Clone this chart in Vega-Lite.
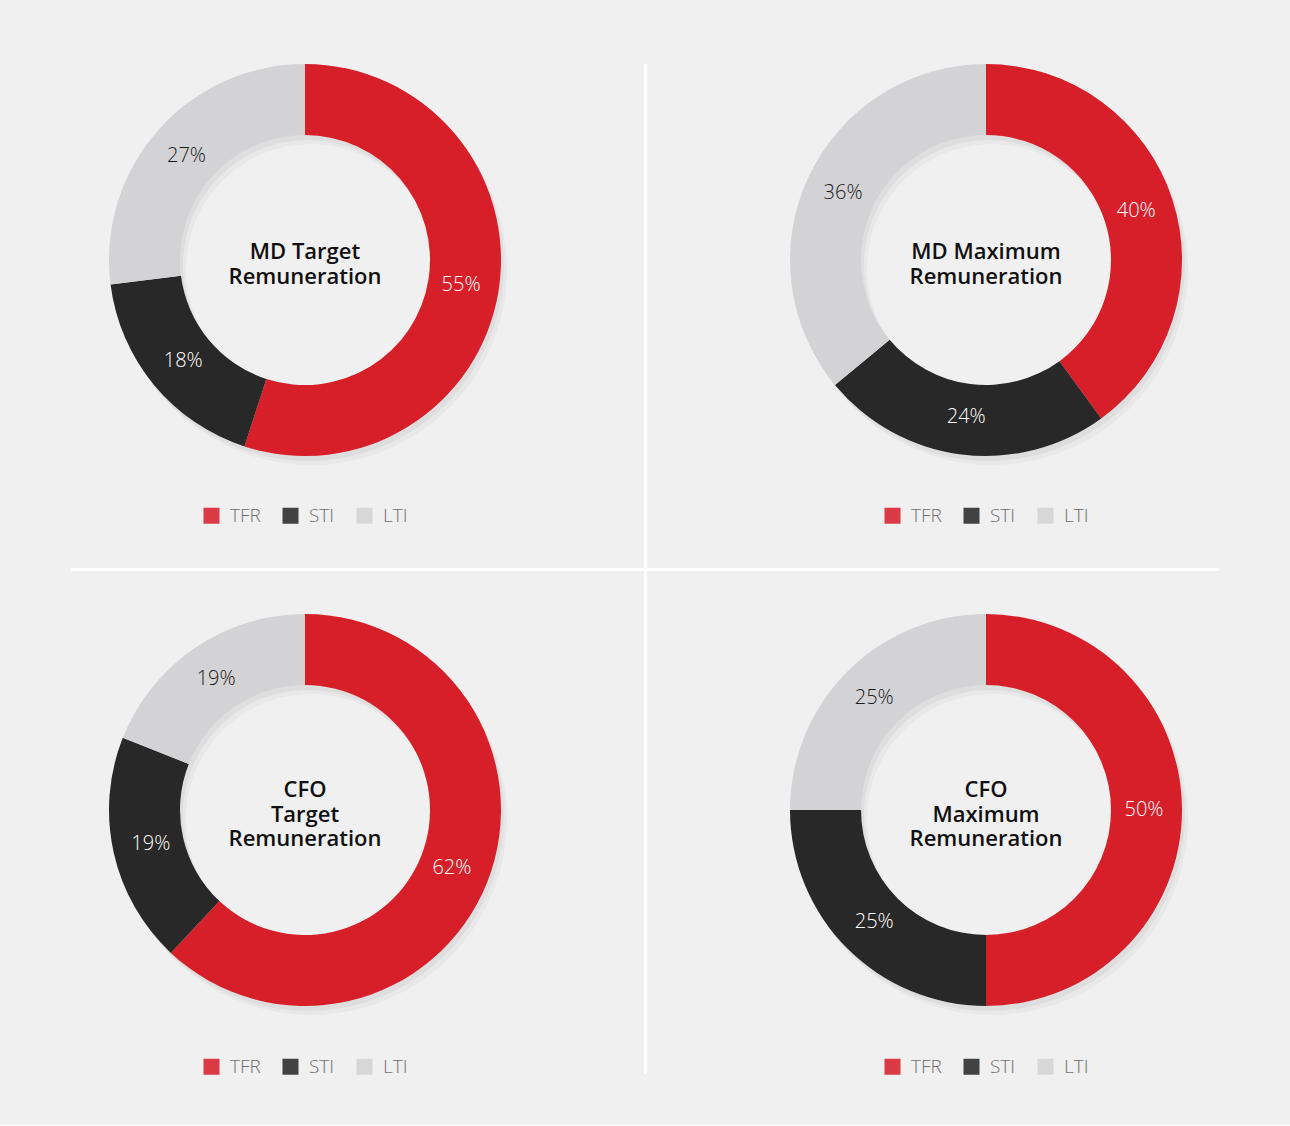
{
  "$schema": "https://vega.github.io/schema/vega-lite/v6.json",
  "background": "#f0f0f0",
  "padding": {"left": 5, "top": 64, "right": 4, "bottom": 48},
  "config": {
    "font": "Open Sans",
    "view": {"stroke": null},
    "legend": {
      "orient": "bottom",
      "direction": "horizontal",
      "symbolType": "square",
      "symbolSize": 256,
      "symbolStrokeWidth": 0,
      "symbolOpacity": 0.87,
      "labelFontSize": 19,
      "labelFont": "Open Sans",
      "labelFontWeight": 300,
      "labelColor": "#6f6f6f",
      "columnPadding": 20,
      "labelOffset": 9,
      "layout": {"anchor": "middle", "bottom": {"anchor": "middle"}}
    }
  },
  "datasets": {
    "shares": [
      {"chart": "MD Target", "part": "TFR", "rank": 1, "pct": 0.55},
      {"chart": "MD Target", "part": "STI", "rank": 2, "pct": 0.18},
      {"chart": "MD Target", "part": "LTI", "rank": 3, "pct": 0.27},
      {"chart": "MD Maximum", "part": "TFR", "rank": 1, "pct": 0.40},
      {"chart": "MD Maximum", "part": "STI", "rank": 2, "pct": 0.24},
      {"chart": "MD Maximum", "part": "LTI", "rank": 3, "pct": 0.36},
      {"chart": "CFO Target", "part": "TFR", "rank": 1, "pct": 0.62},
      {"chart": "CFO Target", "part": "STI", "rank": 2, "pct": 0.19},
      {"chart": "CFO Target", "part": "LTI", "rank": 3, "pct": 0.19},
      {"chart": "CFO Maximum", "part": "TFR", "rank": 1, "pct": 0.50},
      {"chart": "CFO Maximum", "part": "STI", "rank": 2, "pct": 0.25},
      {"chart": "CFO Maximum", "part": "LTI", "rank": 3, "pct": 0.25}
    ],
    "titles": [
      {"chart": "MD Target", "title": "MD Target\nRemuneration"},
      {"chart": "MD Maximum", "title": "MD Maximum\nRemuneration"},
      {"chart": "CFO Target", "title": "CFO\nTarget\nRemuneration"},
      {"chart": "CFO Maximum", "title": "CFO\nMaximum\nRemuneration"}
    ]
  },
  "spacing": 0,
  "resolve": {"scale": {"color": "independent", "fill": "independent"}, "legend": {"color": "independent"}},
  "vconcat": [
    {
      "spacing": 39,
      "resolve": {"scale": {"color": "independent", "fill": "independent"}, "legend": {"color": "independent"}},
      "hconcat": [
        {
          "width": 600, "height": 392,
          "data": {"name": "shares"},
          "transform": [{"filter": "datum.chart === 'MD Target'"}],
          "layer": [
            {"mark": {"type": "arc", "innerRadius": 125, "outerRadius": 196, "color": "black", "opacity": 0.03, "xOffset": 6, "yOffset": 9},
             "encoding": {"theta": {"field": "pct", "type": "quantitative", "stack": true}, "order": {"field": "rank", "type": "quantitative"}}},
            {"mark": {"type": "arc", "innerRadius": 125, "outerRadius": 196, "color": "black", "opacity": 0.04, "xOffset": 3, "yOffset": 5},
             "encoding": {"theta": {"field": "pct", "type": "quantitative", "stack": true}, "order": {"field": "rank", "type": "quantitative"}}},
            {"mark": {"type": "arc", "innerRadius": 125, "outerRadius": 196},
             "encoding": {
               "theta": {"field": "pct", "type": "quantitative", "stack": true},
               "order": {"field": "rank", "type": "quantitative"},
               "color": {"field": "part", "type": "nominal", "scale": {"domain": ["TFR", "STI", "LTI"], "range": ["#d71f2a", "#282828", "#d3d3d5"]}, "legend": {"title": null, "offset": 50}}
             }},
            {"mark": {"type": "text", "radius": 158, "fontSize": 20, "fontWeight": 300},
             "encoding": {
               "theta": {"field": "pct", "type": "quantitative", "stack": true},
               "order": {"field": "rank", "type": "quantitative"},
               "text": {"field": "pct", "type": "quantitative", "format": ".0%"},
               "fill": {"field": "part", "type": "nominal", "scale": {"domain": ["TFR", "STI", "LTI"], "range": ["#ffffff", "#ffffff", "#1a1a1a"]}, "legend": null}
             }},
            {"data": {"name": "titles"}, "transform": [{"filter": "datum.chart === 'MD Target'"}],
             "mark": {"type": "text", "fontSize": 22, "fontWeight": 600, "lineBreak": "\n", "lineHeight": 24.5, "dy": -8, "color": "#111111"},
             "encoding": {"text": {"field": "title", "type": "nominal"}}}
          ]
        },
        {"width": 3, "height": 504, "view": {"fill": "white"}, "data": {"values": [{}]}, "mark": {"type": "point", "opacity": 0, "size": 0}},
        {
          "width": 600, "height": 392,
          "data": {"name": "shares"},
          "transform": [{"filter": "datum.chart === 'MD Maximum'"}],
          "layer": [
            {"mark": {"type": "arc", "innerRadius": 125, "outerRadius": 196, "color": "black", "opacity": 0.03, "xOffset": 6, "yOffset": 9},
             "encoding": {"theta": {"field": "pct", "type": "quantitative", "stack": true}, "order": {"field": "rank", "type": "quantitative"}}},
            {"mark": {"type": "arc", "innerRadius": 125, "outerRadius": 196, "color": "black", "opacity": 0.04, "xOffset": 3, "yOffset": 5},
             "encoding": {"theta": {"field": "pct", "type": "quantitative", "stack": true}, "order": {"field": "rank", "type": "quantitative"}}},
            {"mark": {"type": "arc", "innerRadius": 125, "outerRadius": 196},
             "encoding": {
               "theta": {"field": "pct", "type": "quantitative", "stack": true},
               "order": {"field": "rank", "type": "quantitative"},
               "color": {"field": "part", "type": "nominal", "scale": {"domain": ["TFR", "STI", "LTI"], "range": ["#d71f2a", "#282828", "#d3d3d5"]}, "legend": {"title": null, "offset": 50}}
             }},
            {"mark": {"type": "text", "radius": 158, "fontSize": 20, "fontWeight": 300},
             "encoding": {
               "theta": {"field": "pct", "type": "quantitative", "stack": true},
               "order": {"field": "rank", "type": "quantitative"},
               "text": {"field": "pct", "type": "quantitative", "format": ".0%"},
               "fill": {"field": "part", "type": "nominal", "scale": {"domain": ["TFR", "STI", "LTI"], "range": ["#ffffff", "#ffffff", "#1a1a1a"]}, "legend": null}
             }},
            {"data": {"name": "titles"}, "transform": [{"filter": "datum.chart === 'MD Maximum'"}],
             "mark": {"type": "text", "fontSize": 22, "fontWeight": 600, "lineBreak": "\n", "lineHeight": 24.5, "dy": -8, "color": "#111111"},
             "encoding": {"text": {"field": "title", "type": "nominal"}}}
          ]
        }
      ]
    },
    {
      "spacing": 0,
      "hconcat": [
        {"width": 66, "height": 3, "data": {"values": [{}]}, "mark": {"type": "point", "opacity": 0, "size": 0}},
        {"width": 1148, "height": 3, "view": {"fill": "white"}, "data": {"values": [{}]}, "mark": {"type": "point", "opacity": 0, "size": 0}}
      ]
    },
    {
      "spacing": 39,
      "resolve": {"scale": {"color": "independent", "fill": "independent"}, "legend": {"color": "independent"}},
      "hconcat": [
        {
          "width": 600, "height": 478,
          "data": {"name": "shares"},
          "transform": [{"filter": "datum.chart === 'CFO Target'"}],
          "layer": [
            {"mark": {"type": "arc", "innerRadius": 125, "outerRadius": 196, "color": "black", "opacity": 0.03, "xOffset": 6, "yOffset": 9},
             "encoding": {"theta": {"field": "pct", "type": "quantitative", "stack": true}, "order": {"field": "rank", "type": "quantitative"}}},
            {"mark": {"type": "arc", "innerRadius": 125, "outerRadius": 196, "color": "black", "opacity": 0.04, "xOffset": 3, "yOffset": 5},
             "encoding": {"theta": {"field": "pct", "type": "quantitative", "stack": true}, "order": {"field": "rank", "type": "quantitative"}}},
            {"mark": {"type": "arc", "innerRadius": 125, "outerRadius": 196},
             "encoding": {
               "theta": {"field": "pct", "type": "quantitative", "stack": true},
               "order": {"field": "rank", "type": "quantitative"},
               "color": {"field": "part", "type": "nominal", "scale": {"domain": ["TFR", "STI", "LTI"], "range": ["#d71f2a", "#282828", "#d3d3d5"]}, "legend": {"title": null, "offset": 8}}
             }},
            {"mark": {"type": "text", "radius": 158, "fontSize": 20, "fontWeight": 300},
             "encoding": {
               "theta": {"field": "pct", "type": "quantitative", "stack": true},
               "order": {"field": "rank", "type": "quantitative"},
               "text": {"field": "pct", "type": "quantitative", "format": ".0%"},
               "fill": {"field": "part", "type": "nominal", "scale": {"domain": ["TFR", "STI", "LTI"], "range": ["#ffffff", "#ffffff", "#1a1a1a"]}, "legend": null}
             }},
            {"data": {"name": "titles"}, "transform": [{"filter": "datum.chart === 'CFO Target'"}],
             "mark": {"type": "text", "fontSize": 22, "fontWeight": 600, "lineBreak": "\n", "lineHeight": 24.5, "dy": -20, "color": "#111111"},
             "encoding": {"text": {"field": "title", "type": "nominal"}}}
          ]
        },
        {"width": 3, "height": 503, "view": {"fill": "white"}, "data": {"values": [{}]}, "mark": {"type": "point", "opacity": 0, "size": 0}},
        {
          "width": 600, "height": 478,
          "data": {"name": "shares"},
          "transform": [{"filter": "datum.chart === 'CFO Maximum'"}],
          "layer": [
            {"mark": {"type": "arc", "innerRadius": 125, "outerRadius": 196, "color": "black", "opacity": 0.03, "xOffset": 6, "yOffset": 9},
             "encoding": {"theta": {"field": "pct", "type": "quantitative", "stack": true}, "order": {"field": "rank", "type": "quantitative"}}},
            {"mark": {"type": "arc", "innerRadius": 125, "outerRadius": 196, "color": "black", "opacity": 0.04, "xOffset": 3, "yOffset": 5},
             "encoding": {"theta": {"field": "pct", "type": "quantitative", "stack": true}, "order": {"field": "rank", "type": "quantitative"}}},
            {"mark": {"type": "arc", "innerRadius": 125, "outerRadius": 196},
             "encoding": {
               "theta": {"field": "pct", "type": "quantitative", "stack": true},
               "order": {"field": "rank", "type": "quantitative"},
               "color": {"field": "part", "type": "nominal", "scale": {"domain": ["TFR", "STI", "LTI"], "range": ["#d71f2a", "#282828", "#d3d3d5"]}, "legend": {"title": null, "offset": 8}}
             }},
            {"mark": {"type": "text", "radius": 158, "fontSize": 20, "fontWeight": 300},
             "encoding": {
               "theta": {"field": "pct", "type": "quantitative", "stack": true},
               "order": {"field": "rank", "type": "quantitative"},
               "text": {"field": "pct", "type": "quantitative", "format": ".0%"},
               "fill": {"field": "part", "type": "nominal", "scale": {"domain": ["TFR", "STI", "LTI"], "range": ["#ffffff", "#ffffff", "#1a1a1a"]}, "legend": null}
             }},
            {"data": {"name": "titles"}, "transform": [{"filter": "datum.chart === 'CFO Maximum'"}],
             "mark": {"type": "text", "fontSize": 22, "fontWeight": 600, "lineBreak": "\n", "lineHeight": 24.5, "dy": -20, "color": "#111111"},
             "encoding": {"text": {"field": "title", "type": "nominal"}}}
          ]
        }
      ]
    }
  ]
}
